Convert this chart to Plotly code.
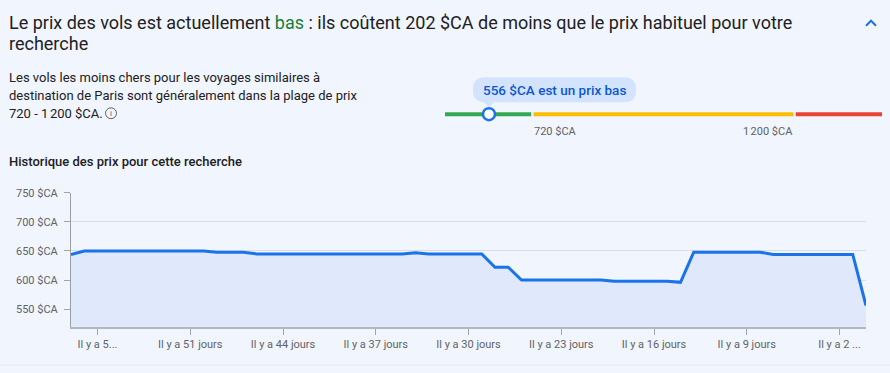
import numpy as np
import plotly.graph_objects as go

# ---------------- data ----------------
days_ago = list(range(60, -1, -1))
prices = [644,
          650, 650, 650, 650, 650, 650, 650, 650, 650, 650,
          648, 648, 648,
          645, 645, 645, 645, 645, 645, 645, 645, 645, 645, 645, 645,
          647,
          645, 645, 645, 645, 645,
          622, 622,
          600, 600, 600, 600, 600, 600, 600,
          598, 598, 598, 598, 598,
          596,
          648, 648, 648, 648, 648, 648,
          644, 644, 644, 644, 644, 644, 644,
          556]
x_tick_days = [58, 51, 44, 37, 30, 23, 16, 9, 2]
x_tick_labels = ["Il y a 5...", "Il y a 51 jours", "Il y a 44 jours", "Il y a 37 jours",
                 "Il y a 30 jours", "Il y a 23 jours", "Il y a 16 jours", "Il y a 9 jours",
                 "Il y a 2 ..."]
y_tick_values = [550, 600, 650, 700, 750]
y_tick_labels = [f"{v} $CA" for v in y_tick_values]

current_price = 556
typical_low = 720
typical_high = 1200
savings = 202
currency = "$CA"

# price-range bar scale (piecewise: low / typical / high bands)
bar_scale_prices = [390, typical_low, typical_high, 1360]
bar_scale_units = [0, 1, 4, 5]
band_colors = ["#34a853", "#fbbc04", "#ea4335"]

W, H = 890, 373
DY = 4
FONT = "Roboto"
BG = "#f1f5fd"


def fx(x):
    return x / W


def fy(y):
    return 1 - (y - DY) / H


def bar_pos(p):
    return float(np.interp(p, bar_scale_prices, bar_scale_units))


def fmt(v):
    return f"{v:,}".replace(",", "\u202f")


fig = go.Figure()

# ---------------- history line ----------------
fig.add_trace(go.Scatter(
    x=[-d for d in days_ago], y=prices, mode="lines",
    line=dict(color="#1a73e8", width=3),
    fill="tozeroy", fillcolor="#dfe9fb",
    hoverinfo="skip", showlegend=False, xaxis="x", yaxis="y"))

# ---------------- price range bar ----------------
gap = 0.013
for i, col in enumerate(band_colors):
    a = bar_scale_prices[i]
    b = bar_scale_prices[i + 1]
    x0 = bar_pos(a) + (gap if i > 0 else 0)
    x1 = bar_pos(b) - (gap if i < 2 else 0)
    fig.add_trace(go.Scatter(
        x=[x0, x1], y=[0, 0], mode="lines",
        line=dict(color=col, width=4), hoverinfo="skip", showlegend=False,
        xaxis="x2", yaxis="y2", cliponaxis=False))

fig.add_trace(go.Scatter(
    x=[bar_pos(current_price)], y=[0], mode="markers",
    marker=dict(size=12, color="white", line=dict(color="#1a73e8", width=2.5)),
    hoverinfo="skip", showlegend=False, xaxis="x2", yaxis="y2", cliponaxis=False))

mx = bar_pos(current_price)
r = 12
L, R, B, T = -16, 147, 12, 37
bubble = (f"M {L+r} {T} L {R-r} {T} Q {R} {T} {R} {T-r} L {R} {B+r} Q {R} {B} {R-r} {B} "
          f"L 5 {B} L 0 7 L -5 {B} L {L+r} {B} Q {L} {B} {L} {B+r} L {L} {T-r} Q {L} {T} {L+r} {T} Z")

shapes = [
    dict(type="path", xref="x2", yref="y2", xsizemode="pixel", ysizemode="pixel",
         xanchor=mx, yanchor=0, path=bubble, fillcolor="#d3e3fd", line=dict(width=0),
         layer="below"),
    # chevron
    dict(type="path", xref="paper", yref="paper",
         path=f"M {fx(866)} {fy(24)} L {fx(871)} {fy(19)} L {fx(876)} {fy(24)}",
         line=dict(color="#1a73e8", width=2)),
    # info icon
    dict(type="circle", xref="paper", yref="paper",
         x0=fx(105.5), x1=fx(116.5), y0=fy(107.5), y1=fy(118.5),
         line=dict(color="#5f6368", width=1)),
    # bottom border
    dict(type="line", xref="paper", yref="paper", x0=0, x1=1, y0=fy(369), y1=fy(369),
         line=dict(color="#e1e7f0", width=1)),
]

annotations = [
    dict(x=mx, y=0, xref="x2", yref="y2", xshift=65.5, yshift=24.5, showarrow=False,
         text=f"{current_price} {currency} est un prix bas",
         font=dict(family=FONT, size=13.5, color="#0b57d0", weight=500)),
    dict(x=bar_pos(typical_low), y=0, xref="x2", yref="y2", xanchor="left", yshift=-17,
         showarrow=False, text=f"{fmt(typical_low)} {currency}",
         font=dict(family=FONT, size=11, color="#5f6368")),
    dict(x=bar_pos(typical_high), y=0, xref="x2", yref="y2", xanchor="right", yshift=-17,
         showarrow=False, text=f"{fmt(typical_high)} {currency}",
         font=dict(family=FONT, size=11, color="#5f6368")),
    dict(x=fx(7), y=fy(21), xref="paper", yref="paper", xanchor="left", yanchor="middle",
         showarrow=False,
         text=(f"Le prix des vols est actuellement <span style='color:#188038'>bas</span> : "
               f"ils coûtent {savings} {currency} de moins que le prix habituel pour votre"),
         font=dict(family=FONT, size=18, color="#202124")),
    dict(x=fx(7), y=fy(42), xref="paper", yref="paper", xanchor="left", yanchor="middle",
         showarrow=False, text="recherche",
         font=dict(family=FONT, size=18, color="#202124")),
    dict(x=fx(7), y=fy(77), xref="paper", yref="paper", xanchor="left", yanchor="middle",
         showarrow=False, text="Les vols les moins chers pour les voyages similaires à",
         font=dict(family=FONT, size=13, color="#202124")),
    dict(x=fx(7), y=fy(95), xref="paper", yref="paper", xanchor="left", yanchor="middle",
         showarrow=False, text="destination de Paris sont généralement dans la plage de prix",
         font=dict(family=FONT, size=13, color="#202124")),
    dict(x=fx(7), y=fy(113), xref="paper", yref="paper", xanchor="left", yanchor="middle",
         showarrow=False, text=f"{typical_low} - {fmt(typical_high)} {currency}.",
         font=dict(family=FONT, size=13, color="#202124")),
    dict(x=fx(111), y=fy(113), xref="paper", yref="paper", xanchor="center", yanchor="middle",
         showarrow=False, text="i", font=dict(family=FONT, size=8, color="#5f6368")),
    dict(x=fx(7), y=fy(162), xref="paper", yref="paper", xanchor="left", yanchor="middle",
         showarrow=False, text="Historique des prix pour cette recherche",
         font=dict(family=FONT, size=13, color="#202124", weight=500)),
]

fig.update_layout(
    width=W, height=H, margin=dict(l=0, r=0, t=0, b=0),
    paper_bgcolor=BG, plot_bgcolor=BG, showlegend=False,
    font=dict(family=FONT),
    shapes=shapes, annotations=annotations,
    xaxis=dict(domain=[fx(71), fx(866)], range=[-60, 0], anchor="y",
               tickmode="array", tickvals=[-d for d in x_tick_days], ticktext=x_tick_labels,
               ticks="outside", ticklen=6, tickcolor="#a0a5ab", tickwidth=1,
               showline=True, linecolor="#b3b8bf", linewidth=2,
               showgrid=False, zeroline=False,
               tickfont=dict(family=FONT, size=11, color="#5f6368")),
    yaxis=dict(domain=[fy(330), fy(194)], range=[519.5, 750], anchor="x",
               tickmode="array", tickvals=y_tick_values, ticktext=y_tick_labels,
               ticks="outside", ticklen=6, tickcolor="#a0a5ab", tickwidth=1,
               showline=True, linecolor="#9aa0a6", linewidth=1,
               showgrid=True, gridcolor="#dadde2", gridwidth=1, zeroline=False,
               ticklabelstandoff=4,
               tickfont=dict(family=FONT, size=11, color="#5f6368")),
    xaxis2=dict(domain=[fx(445), fx(882)], range=[0, 5], anchor="y2", visible=False),
    yaxis2=dict(domain=[fy(124), fy(60)], range=[-1, 5.4], anchor="x2", visible=False),
)

post = ("document.body.style.margin='0';document.body.style.padding='0';"
        "var d=document.getElementById('{plot_id}');"
        "d.style.position='absolute';d.style.top='0px';d.style.left='0px';")
fig.write_html("out.html", config={"displayModeBar": False}, post_script=post)
